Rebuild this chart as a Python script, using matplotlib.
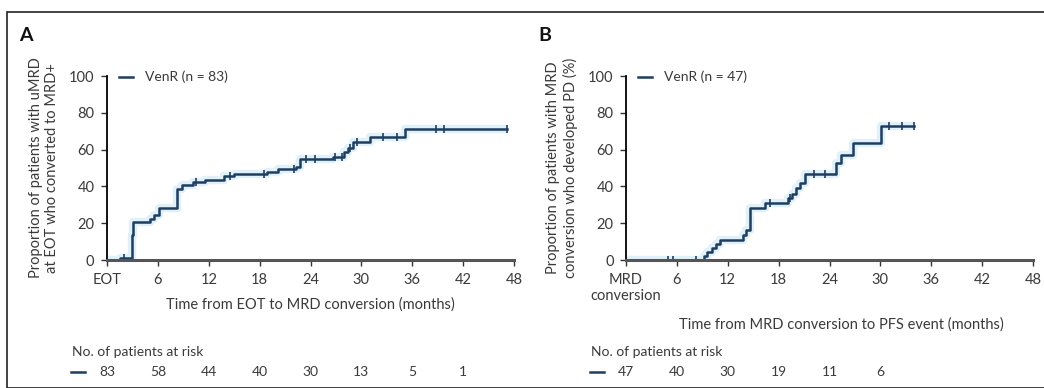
import numpy as np
import matplotlib
matplotlib.use("Agg")
import matplotlib.pyplot as plt
from matplotlib.patches import Rectangle

plt.rcParams['font.family'] = ['Lato', 'DejaVu Sans']

# panel A: uMRD at EOT -> MRD+ conversion
a_time = [0, 1.5, 2.9, 3.1, 5.1, 5.6, 6.1, 8.2, 8.8, 10.2, 11.6, 13.8, 15.0, 18.9, 20.2, 22.3, 22.8, 26.7, 28.0, 28.4, 29.0, 31.0, 35.2, 47.2]
a_prop = [0, 1.2, 13.6, 20.8, 22.5, 24.5, 28.0, 38.5, 40.5, 42.6, 43.5, 45.5, 47.0, 48.0, 49.5, 50.5, 55.0, 56.0, 58.5, 61.0, 64.0, 66.7, 71.2, 71.2]
a_cens = [2.0, 10.5, 14.5, 18.5, 22.0, 23.5, 24.5, 26.9, 27.7, 28.6, 29.5, 32.6, 34.2, 38.8, 39.7, 47.2]
a_ticklabels = ['EOT', '6', '12', '18', '24', '30', '36', '42', '48']
a_risk = [83, 58, 44, 40, 30, 13, 5, 1]

# panel B: MRD conversion -> PD
b_time = [0, 9.2, 9.6, 10.1, 10.6, 11.1, 13.8, 14.2, 14.6, 16.4, 19.1, 19.6, 20.0, 20.5, 21.1, 24.8, 25.4, 26.8, 30.1, 34.0]
b_prop = [0, 2.2, 4.4, 6.6, 8.8, 11.0, 13.5, 16.3, 28.0, 30.8, 33.5, 36.0, 39.0, 42.0, 47.0, 52.5, 57.0, 63.4, 72.8, 72.8]
b_cens = [5.0, 5.5, 8.2, 17.0, 19.4, 22.2, 23.5, 31.0, 32.5, 34.0]
b_ticklabels = ['MRD\nconversion', '6', '12', '18', '24', '30', '36', '42', '48']
b_risk = [47, 40, 30, 19, 11, 6]

LINE = '#1e3d60'
GLOW = '#a9d8f2'
TXT = '#3a3a3a'

fig = plt.figure(figsize=(10.44, 3.88), dpi=100)
fig.patches.append(Rectangle((7 / 1044, 0), 1.2, (388 - 12) / 388, transform=fig.transFigure,
                             fill=False, edgecolor='#222222', lw=1.2))


def km_panel(left, t, p, cens, ticklabels, risk, ylabel, xlabel, legend, letter, xlab_y):
    ax = fig.add_axes([left, 128 / 388, 407 / 1044, 184 / 388])
    ax.plot(t, p, drawstyle='steps-post', color=GLOW, lw=6, alpha=0.35, solid_capstyle='butt')
    ax.plot(t, p, drawstyle='steps-post', color=LINE, lw=1.8)
    idx = np.searchsorted(t, cens, side='right') - 1
    cy = np.array(p)[idx]
    ax.plot(cens, cy, ls='none', marker='|', ms=6, mew=1.2, color=LINE)
    ax.set_xlim(0, 48)
    ax.set_ylim(0, 100)
    ax.set_xticks(np.arange(0, 49, 6))
    ax.set_xticklabels(ticklabels, fontsize=10.5, color=TXT, linespacing=1.25)
    ax.set_yticks(np.arange(0, 101, 20))
    ax.set_yticklabels([str(v) for v in range(0, 101, 20)], fontsize=10.5, color=TXT)
    ax.tick_params(direction='out', length=4, width=1, pad=5, color='#333333')
    for s in ['top', 'right']:
        ax.spines[s].set_visible(False)
    ax.spines['left'].set_linewidth(1.3)
    ax.spines['bottom'].set_linewidth(2.2)
    ax.spines['bottom'].set_color('#555555')
    ax.set_ylabel(ylabel, fontsize=10.5, color=TXT, labelpad=7, linespacing=1.25)
    ax.plot([0.03, 0.065], [0.995, 0.995], transform=ax.transAxes, color=LINE, lw=1.8, clip_on=False)
    ax.text(0.093, 0.995, legend, transform=ax.transAxes, fontsize=10, color=TXT, va='center')
    ax.text(-0.215, 1.19, letter, transform=ax.transAxes, fontsize=14, fontweight='bold', color='#111111')
    fig.text(left + 0.5 * 407 / 1044 + xlab_y[0], xlab_y[1], xlabel, fontsize=10.5, color=TXT, ha='center', va='center')
    # risk table
    fig.text(left - 35 / 1044, 36 / 388, 'No. of patients at risk', fontsize=10, color=TXT, va='center')
    ax.plot([-4.2, -2.6], [-61, -61], color=LINE, lw=1.8, clip_on=False)
    for i, n in enumerate(risk):
        ax.text(i * 6, -61, str(n), fontsize=10, color=TXT, ha='center', va='center')
    return ax


km_panel(107 / 1044, a_time, a_prop, a_cens, a_ticklabels, a_risk,
         'Proportion of patients with uMRD\nat EOT who converted to MRD+',
         'Time from EOT to MRD conversion (months)', 'VenR (n = 83)', 'A', (0, 83 / 388))
km_panel(626 / 1044, b_time, b_prop, b_cens, b_ticklabels, b_risk,
         'Proportion of patients with MRD\nconversion who developed PD (%)',
         'Time from MRD conversion to PFS event (months)', 'VenR (n = 47)', 'B', (12 / 1044, 63 / 388))

fig.savefig('out.png', dpi=100, facecolor='white')
